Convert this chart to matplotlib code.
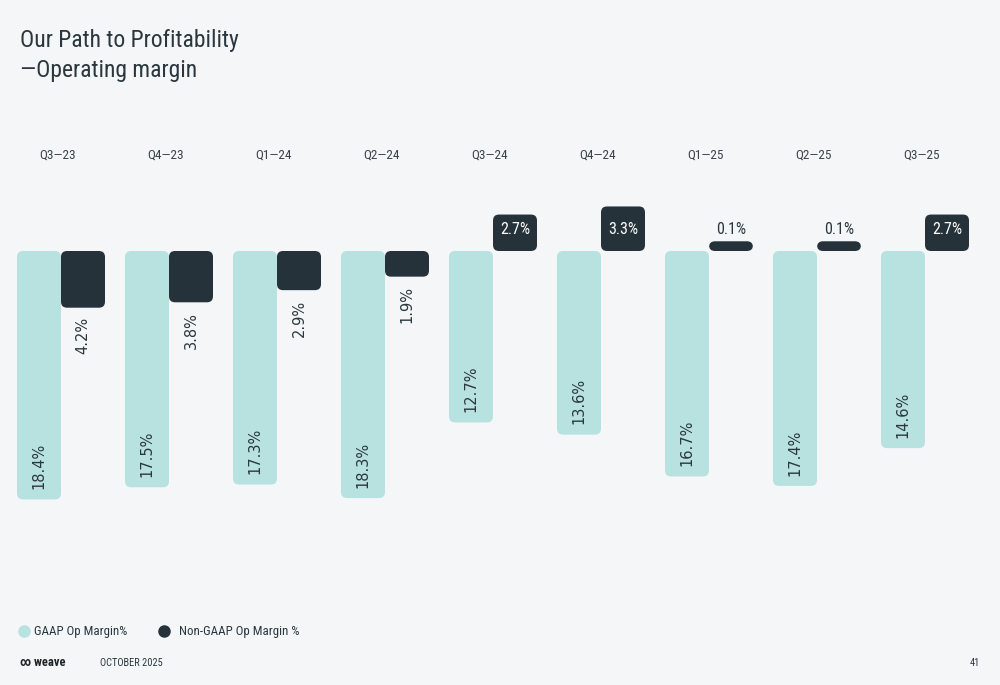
import matplotlib
matplotlib.use("Agg")
import matplotlib.pyplot as plt
from matplotlib.patches import FancyBboxPatch

quarters = ["Q3\u201423", "Q4\u201423", "Q1\u201424", "Q2\u201424", "Q3\u201424",
            "Q4\u201424", "Q1\u201425", "Q2\u201425", "Q3\u201425"]
gaap = [-18.4, -17.5, -17.3, -18.3, -12.7, -13.6, -16.7, -17.4, -14.6]
non_gaap = [-4.2, -3.8, -2.9, -1.9, 2.7, 3.3, 0.1, 0.1, 2.7]

bg = "#f4f6f8"
teal = "#b8e2e0"
dark = "#26323a"
txt = "#2b373e"
head_font = ["Roboto Condensed", "DejaVu Sans"]

fig = plt.figure(figsize=(10, 6.85), dpi=100, facecolor=bg)
ax = fig.add_axes([0, 0, 1, 1])
ax.set_facecolor(bg)
ax.axis("off")

# 108 px per quarter, 13.5 px per percentage point, baseline at y=251 px
ax.set_xlim(-61 / 108, (1000 - 61) / 108)
ax.set_ylim(-(685 - 251) / 13.5, 251 / 13.5)

w = 44 / 108
r = 6 / 108
asp = 108 / 13.5
min_h = 0.72


def bar(x, v, color):
    h = max(abs(v), min_h)
    y0 = 0 if v > 0 else -h
    p = FancyBboxPatch((x - w / 2, y0), w, h, boxstyle=f"round,pad=0,rounding_size={r}",
                       mutation_aspect=asp, fc=color, ec="none")
    ax.add_patch(p)


for i, q in enumerate(quarters):
    gx = i - w / 2
    nx = i + w / 2
    bar(gx, gaap[i], teal)
    bar(nx, non_gaap[i], dark)
    ax.text(i - 0.03, 7.1, q, ha="center", va="center", fontsize=9.5, color="#3a4448",
            family=head_font)
    ax.text(gx, gaap[i] + 0.75, f"{abs(gaap[i]):.1f}%", rotation=90, ha="center",
            va="bottom", fontsize=10.5, color=txt, family="DejaVu Sans")
    v = non_gaap[i]
    if v < 0:
        ax.text(nx, v - 0.7, f"{abs(v):.1f}%", rotation=90, ha="center", va="top",
                fontsize=10.5, color=txt, family="DejaVu Sans")
    elif v > 1:
        ax.text(nx, 1.6, f"{v:.1f}%", ha="center", va="center", fontsize=11.5,
                color="white", family=head_font)
    else:
        ax.text(nx, 1.6, f"{v:.1f}%", ha="center", va="center", fontsize=11.5,
                color=txt, family=head_font)

fig.text(0.02, 1 - 40 / 685, "Our Path to Profitability", fontsize=17, color=txt,
         family=head_font, va="center")
fig.text(0.02, 1 - 70 / 685, "\u2014Operating margin", fontsize=17, color=txt,
         family=head_font, va="center")

# legend
ly = 1 - 631 / 685
fig.add_artist(plt.Line2D([0.024], [ly], marker="o", ms=8, color=teal, ls="none"))
fig.text(0.034, ly, "GAAP Op Margin%", fontsize=9.3, color=txt, va="center", family=head_font)
fig.add_artist(plt.Line2D([0.164], [ly], marker="o", ms=8, color=dark, ls="none"))
fig.text(0.179, ly, "Non-GAAP Op Margin %", fontsize=9.3, color=txt, va="center",
         family=head_font)

fy = 1 - 663 / 685
fig.text(0.02, fy, "\u221e weave", fontsize=9, color="#1f2529", va="center", weight="bold",
         family=head_font)
fig.text(0.10, fy, "OCTOBER 2025", fontsize=7.5, color=txt, va="center", family=head_font)
fig.text(0.98, fy, "41", fontsize=7.5, color=txt, va="center", ha="right", family=head_font)

fig.savefig("out.png", dpi=100, facecolor=bg)
